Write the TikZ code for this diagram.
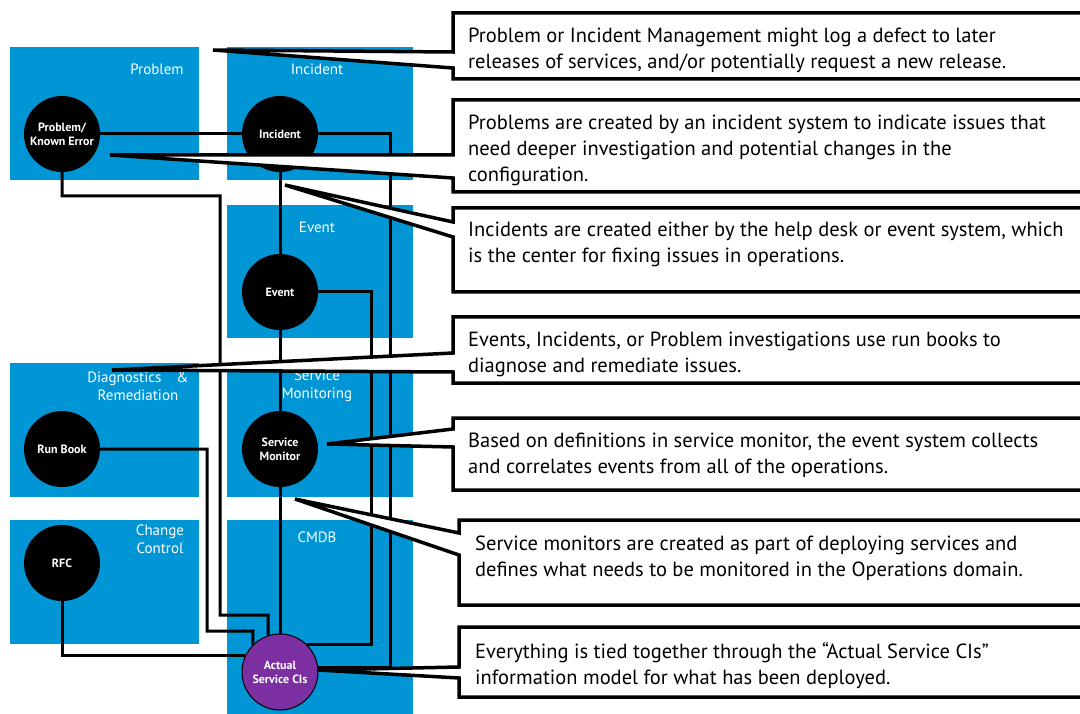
\documentclass[tikz,border=0pt]{standalone}
\usepackage{fontspec}
\setmainfont{PT Sans}
\definecolor{hpblue}{HTML}{0096D6}
\definecolor{cipurple}{HTML}{7B2FA0}

\begin{document}
\begin{tikzpicture}[x=1pt, y=-1pt,
  areatitle/.style={text=white, font=\fontsize{15}{18.5}\selectfont, align=center, inner sep=0pt},
  disc/.style={circle, fill=black, minimum size=76pt, inner sep=0pt, text=white,
    font=\bfseries\fontsize{12}{14}\selectfont, align=center},
  link/.style={draw=black, line width=3pt},
  bubble/.style={draw=black, line width=3.5pt, fill=white},
  note/.style={anchor=north west, inner sep=0pt, align=left, font=\fontsize{20.5}{26}\selectfont}]

  \useasboundingbox (0,0) rectangle (1080,714);
  \clip (0,0) rectangle (1080,714);

  % Areas.
  \path[fill=hpblue] (10,47) rectangle (199,180);
  \path[fill=hpblue] (227,47) rectangle (413,180);
  \path[fill=hpblue] (227,205) rectangle (413,338);
  \path[fill=hpblue] (10,363) rectangle (199,497);
  \path[fill=hpblue] (227,363) rectangle (413,497);
  \path[fill=hpblue] (10,520) rectangle (199,644);
  \path[fill=hpblue] (227,520) rectangle (413,720);

  \node[areatitle] (tproblem) at (157,69) {Problem};
  \node[areatitle] (tincident) at (317,69) {Incident};
  \node[areatitle] (tevent) at (317,227) {Event};
  \node[areatitle] (tdiag) at (138,386) {Diagnostics\quad\&\\Remediation};
  \node[areatitle] (tmonitor) at (317,386) {Service\\Monitoring};
  \node[areatitle] (tchange) at (160,539) {Change\\Control};
  \node[areatitle] (tcmdb) at (317,537) {CMDB};

  % Circles.
  \node[disc] (pke) at (62,134) {Problem/\\Known Error};
  \node[disc] (incident) at (280,134) {Incident};
  \node[disc] (event) at (280,292) {Event};
  \node[disc] (runbook) at (62,449) {Run Book};
  \node[disc] (svcmon) at (280,449) {Service\\Monitor};
  \node[disc] (rfc) at (62,563) {RFC};
  \node[disc, fill=cipurple, draw=black, line width=1pt] (asci) at (280,672) {Actual\\Service CIs};

  % Bends.
  \coordinate (inbend) at (390,0);
  \coordinate (evbend) at (371,0);

  % Links.
  \draw[link] (pke) -- (incident);
  \draw[link] (incident) -- (event);
  \draw[link] (event) -- (svcmon);
  \draw[link] (svcmon) -- (asci);
  \draw[link] (incident.east) -- (incident.east -| inbend) |- (asci.6);
  \draw[link] (event.east) -- (event.east -| evbend) |- (asci.north east);
  \draw[link] (pke.south) -- (62,196) -- (220,196) -- (220,615) -- (268,615) -- (asci.108);
  \draw[link] (runbook.east) -- (207,449) -- (207,631) -- (253,631) -- (asci.north west);
  \draw[link] (rfc.south) |- (asci.155);

  % Callouts.
  \path[bubble] (213,50) -- (453,52) -- (453,13) -- (1100,13) -- (1100,79) -- (453,79) -- (453,68) -- cycle;
  \path[bubble] (110,155) -- (453,155) -- (453,100) -- (1100,100) -- (1100,192) -- (453,192) -- (453,178) -- cycle;
  \path[bubble] (285,185) -- (453,222) -- (453,208) -- (1100,208) -- (1100,292) -- (453,292) -- (453,237) -- cycle;
  \path[bubble] (112,370) -- (453,353) -- (453,317) -- (1100,317) -- (1100,383) -- (453,383) -- (453,372) -- cycle;
  \path[bubble] (327,444) -- (453,429) -- (453,418) -- (1100,418) -- (1100,490) -- (453,490) -- (453,447) -- cycle;
  \path[bubble] (295,499) -- (459,533) -- (459,520) -- (1100,520) -- (1100,605) -- (459,605) -- (459,555) -- cycle;
  \path[bubble] (318,670) -- (459,667) -- (459,627) -- (1100,627) -- (1100,697) -- (459,697) -- (459,678) -- cycle;

  \node[note] (note1) at (468,28) {Problem or Incident Management might log a defect to later\\releases of services, and/or potentially request a new release.};
  \node[note] (note2) at (468,115) {Problems are created by an incident system to indicate issues that\\need deeper investigation and potential changes in the\\configuration.};
  \node[note] (note3) at (468,222) {Incidents are created either by the help desk or event system, which\\is the center for fixing issues in operations.};
  \node[note] (note4) at (468,332) {Events, Incidents, or Problem investigations use run books to\\diagnose and remediate issues.};
  \node[note] (note5) at (468,433) {Based on definitions in service monitor, the event system collects\\and correlates events from all of the operations.};
  \node[note] (note6) at (475,536) {Service monitors are created as part of deploying services and\\defines what needs to be monitored in the Operations domain.};
  \node[note] (note7) at (475,642) {Everything is tied together through the “Actual Service CIs”\\information model for what has been deployed.};
\end{tikzpicture}
\end{document}
